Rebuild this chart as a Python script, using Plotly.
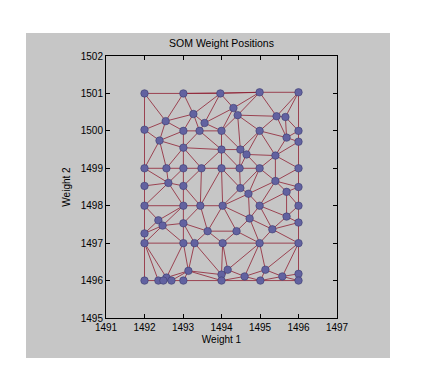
import numpy as np
import plotly.graph_objects as go

# SOM neuron weight positions (Weight 1, Weight 2)
weight1 = [1492.00, 1493.01, 1493.97, 1494.99, 1496.00,
           1493.27, 1492.55, 1493.56, 1494.31, 1494.42, 1495.43, 1495.66,
           1492.00, 1493.01, 1493.43, 1494.00, 1494.99, 1496.00, 1495.69, 1496.00, 1492.39,
           1493.01, 1494.00, 1494.49, 1494.65, 1495.40,
           1492.00, 1492.57, 1493.01, 1493.48, 1494.00, 1494.47, 1494.99, 1496.00,
           1495.40, 1492.62, 1492.00, 1493.01, 1494.49, 1496.00, 1494.70, 1495.69,
           1492.00, 1493.01, 1493.45, 1494.03, 1494.99, 1496.00,
           1492.36, 1492.47, 1493.01, 1494.73, 1495.69, 1496.00, 1493.64, 1494.39, 1495.32, 1492.00,
           1492.00, 1493.01, 1493.30, 1494.03, 1494.99, 1496.00,
           1493.14, 1494.16, 1495.14, 1496.00, 1494.00, 1494.60, 1495.58, 1492.57,
           1492.00, 1492.36, 1492.49, 1492.70, 1493.01, 1494.00, 1495.01, 1496.00]
weight2 = [1501.00, 1501.00, 1501.00, 1501.03, 1501.03,
           1500.45, 1500.26, 1500.21, 1500.61, 1500.42, 1500.39, 1500.37,
           1500.03, 1500.00, 1500.00, 1500.00, 1500.00, 1500.00, 1499.82, 1499.71, 1499.74,
           1499.55, 1499.50, 1499.50, 1499.37, 1499.34,
           1499.00, 1499.00, 1499.00, 1499.00, 1499.00, 1499.00, 1499.00, 1499.00,
           1498.66, 1498.61, 1498.53, 1498.53, 1498.47, 1498.50, 1498.32, 1498.37,
           1498.00, 1498.00, 1498.00, 1498.00, 1498.00, 1498.00,
           1497.61, 1497.47, 1497.53, 1497.66, 1497.71, 1497.55, 1497.32, 1497.32, 1497.37, 1497.26,
           1497.00, 1497.00, 1497.00, 1497.00, 1497.00, 1497.00,
           1496.26, 1496.29, 1496.29, 1496.18, 1496.16, 1496.11, 1496.11, 1496.08,
           1496.00, 1496.00, 1496.00, 1496.00, 1496.00, 1496.00, 1496.00, 1496.00]

x_ticks = [1491, 1492, 1493, 1494, 1495, 1496, 1497]
y_ticks = [1495, 1496, 1497, 1498, 1499, 1500, 1501, 1502]


def delaunay_edges(xs, ys):
    P = np.column_stack([np.array(xs) - np.mean(xs), np.array(ys) - np.mean(ys)])
    n = len(P)
    big = 100.0
    pts = np.vstack([P, [[-big, -big], [big, -big], [0, big]]])
    tris = [(n, n + 1, n + 2)]

    def circ(t):
        a, b, c = pts[t[0]], pts[t[1]], pts[t[2]]
        d = 2 * (a[0] * (b[1] - c[1]) + b[0] * (c[1] - a[1]) + c[0] * (a[1] - b[1]))
        ux = ((a @ a) * (b[1] - c[1]) + (b @ b) * (c[1] - a[1]) + (c @ c) * (a[1] - b[1])) / d
        uy = ((a @ a) * (c[0] - b[0]) + (b @ b) * (a[0] - c[0]) + (c @ c) * (b[0] - a[0])) / d
        return ux, uy, (a[0] - ux) ** 2 + (a[1] - uy) ** 2

    cc = {tris[0]: circ(tris[0])}
    for i in range(n):
        p = pts[i]
        bad = [t for t in tris if (p[0] - cc[t][0]) ** 2 + (p[1] - cc[t][1]) ** 2 < cc[t][2] - 1e-12]
        count = {}
        for t in bad:
            for e in ((t[0], t[1]), (t[1], t[2]), (t[2], t[0])):
                k = tuple(sorted(e))
                count[k] = count.get(k, 0) + 1
        tris = [t for t in tris if t not in bad]
        for t in bad:
            cc.pop(t, None)
        for e, c in count.items():
            if c == 1:
                nt = (e[0], e[1], i)
                tris.append(nt)
                cc[nt] = circ(nt)
    edges = set()
    for t in tris:
        if max(t) >= n:
            continue
        for e in ((t[0], t[1]), (t[1], t[2]), (t[2], t[0])):
            edges.add(tuple(sorted(e)))
    return sorted(edges)


edges = delaunay_edges(weight1, weight2)
ex, ey = [], []
for a, b in edges:
    ex += [weight1[a], weight1[b], None]
    ey += [weight2[a], weight2[b], None]

fig = go.Figure()
fig.add_trace(go.Scatter(x=ex, y=ey, mode="lines",
                         line=dict(color="rgba(140,25,45,0.85)", width=0.9),
                         hoverinfo="skip", showlegend=False))
fig.add_trace(go.Scatter(x=weight1, y=weight2, mode="markers",
                         marker=dict(size=7.5, color="#6262a0",
                                     line=dict(color="#3c3c70", width=0.6)),
                         showlegend=False))

# page body has an 8px margin, so the figure starts at (8, 8)
W, H = 430, 362
L, R, T, B = 98, 329, 48, 310
pw, ph = R - L, B - T

fig.add_shape(type="rect", xref="paper", yref="paper",
              x0=(18 - L) / pw, x1=(382 - L) / pw,
              y0=(B - 350) / ph, y1=(B - 25) / ph,
              fillcolor="#c6c6c6", line=dict(width=0), layer="below")

font = dict(family="Liberation Sans, Arial, sans-serif", size=10, color="#000")
axis_common = dict(showgrid=False, zeroline=False, showline=True, linecolor="#000",
                   linewidth=1, mirror="ticks", ticks="inside", ticklen=4,
                   tickcolor="#000", tickfont=font)

fig.update_layout(
    width=W, height=H,
    margin=dict(l=L, r=W - R, t=T, b=H - B),
    paper_bgcolor="#ffffff", plot_bgcolor="#ffffff",
    font=font,
    title=dict(text="SOM Weight Positions", font=dict(size=10.5, color="#000",
               family="Liberation Sans, Arial, sans-serif"),
               x=0.5, xref="paper", y=1 - 35 / H, yref="container",
               xanchor="center", yanchor="middle"),
    xaxis=dict(range=[1491, 1497], tickvals=x_ticks, **axis_common,
               title=dict(text="Weight 1", font=font, standoff=3)),
    yaxis=dict(range=[1495, 1502], tickvals=y_ticks, **axis_common,
               title=dict(text="Weight 2", font=font, standoff=8)),
)

fig.write_html("out.html")
